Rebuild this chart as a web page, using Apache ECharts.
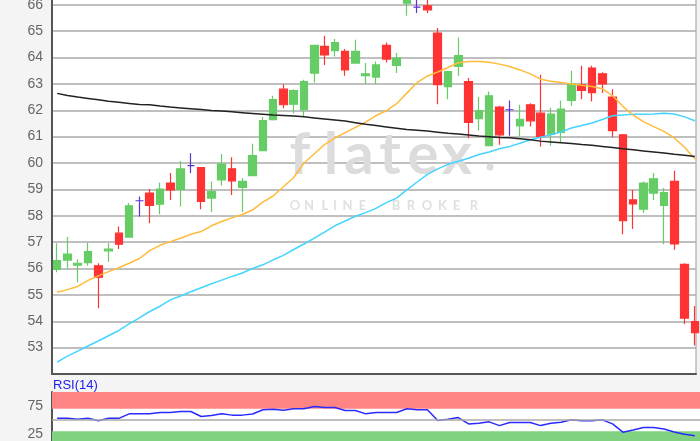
<!DOCTYPE html>
<html>
<head>
<meta charset="utf-8">
<script src="https://cdn.jsdelivr.net/npm/echarts@6/dist/echarts.min.js"></script>
<style>
html,body{margin:0;padding:0;background:#f4f4f4;}
#c{width:700px;height:441px;}
</style>
</head>
<body>
<div id="c"></div>
<script>
// ---- data ----
const categories = ['1','2','3','4','5','6','7','8','9','10','11','12','13','14','15','16','17','18','19','20','21','22','23','24','25','26','27','28','29','30','31','32','33','34','35','36','37','38','39','40','41','42','43','44','45','46','47','48','49','50','51','52','53','54','55','56','57','58','59','60','61','62','63'];
const opens  = [55.97,56.32,56.13,56.22,56.10,56.67,57.34,57.19,58.57,58.86,58.44,59.24,59.00,59.90,59.83,58.67,59.36,59.78,59.08,59.52,60.47,61.64,62.80,62.23,62.02,63.41,64.42,64.26,64.23,63.79,63.31,63.26,64.46,63.70,66.06,65.91,65.96,64.93,62.90,63.66,63.09,61.68,60.66,62.12,62.02,61.41,62.21,61.89,61.09,61.16,62.37,62.97,63.60,63.38,62.50,61.07,58.60,58.25,58.86,58.39,59.30,56.16,53.99];
const closes = [56.30,56.55,56.20,56.64,55.67,56.74,56.92,58.38,58.57,58.39,59.01,58.98,59.78,59.90,58.54,58.92,59.96,59.32,59.30,60.28,61.61,62.40,62.21,62.75,63.09,64.46,64.10,64.57,63.53,64.23,63.38,63.72,63.94,63.98,66.30,65.91,65.81,62.97,63.47,64.07,61.54,61.99,62.55,61.07,62.02,61.66,61.60,61.00,61.85,62.04,62.99,62.75,62.67,63.00,61.23,57.81,58.45,59.24,59.40,58.88,56.93,54.12,53.57];
const lows   = [55.86,56.01,55.48,56.10,54.49,56.26,56.74,57.17,57.97,57.72,58.06,58.60,58.35,59.62,58.25,58.14,59.15,58.79,58.14,59.50,60.45,61.61,62.08,61.89,61.74,63.05,63.72,64.04,63.31,63.77,63.00,63.00,63.81,63.41,65.58,65.69,65.69,62.23,62.42,63.31,60.94,61.23,60.64,60.69,61.03,61.01,61.38,60.63,60.65,60.78,62.17,62.42,62.33,62.65,60.98,57.30,57.50,58.10,58.60,56.92,56.71,53.90,53.08];
const highs  = [56.96,57.19,56.35,56.98,56.20,56.96,57.59,58.48,58.73,59.01,59.26,59.62,60.08,60.37,59.85,59.30,60.34,60.22,59.43,60.73,61.74,62.55,62.99,62.80,63.16,64.48,64.83,64.70,64.32,64.67,63.79,63.85,64.57,64.17,66.45,66.25,66.20,65.12,63.50,64.76,63.22,62.50,62.71,62.17,62.37,62.21,62.27,63.35,62.10,62.37,63.50,63.69,63.69,63.44,62.80,61.10,58.98,59.30,59.62,59.05,59.71,56.20,54.58];
const maBlack  = [62.64,62.56,62.50,62.45,62.40,62.34,62.30,62.26,62.22,62.21,62.16,62.12,62.09,62.06,62.03,61.99,61.97,61.94,61.91,61.88,61.85,61.82,61.80,61.78,61.75,61.71,61.67,61.63,61.59,61.53,61.47,61.42,61.37,61.32,61.27,61.24,61.21,61.17,61.13,61.10,61.06,61.02,61.00,60.97,60.96,60.92,60.88,60.83,60.80,60.77,60.74,60.70,60.67,60.63,60.59,60.54,60.50,60.46,60.42,60.38,60.33,60.29,60.25];
const maOrange = [55.10,55.20,55.32,55.55,55.72,55.88,56.03,56.20,56.38,56.68,56.88,57.02,57.15,57.30,57.40,57.62,57.78,57.92,58.05,58.22,58.52,58.75,59.10,59.45,60.00,60.35,60.70,60.95,61.15,61.35,61.55,61.80,61.98,62.25,62.65,63.05,63.30,63.45,63.62,63.80,63.85,63.85,63.82,63.75,63.66,63.53,63.38,63.18,63.10,63.05,63.00,62.95,62.90,62.82,62.55,62.15,61.82,61.57,61.38,61.20,60.95,60.60,60.15];
const maCyan   = [52.45,52.68,52.87,53.06,53.25,53.45,53.65,53.90,54.13,54.37,54.57,54.81,54.96,55.12,55.27,55.42,55.56,55.70,55.83,56.00,56.14,56.33,56.50,56.72,56.93,57.15,57.38,57.62,57.80,57.98,58.12,58.28,58.50,58.67,58.98,59.28,59.57,59.78,59.95,60.07,60.18,60.32,60.42,60.54,60.63,60.75,60.88,60.98,61.07,61.18,61.33,61.42,61.52,61.65,61.79,61.82,61.85,61.85,61.86,61.89,61.86,61.75,61.60];
const rsiValues = [53.3,53.0,51.5,53.3,48.5,53.0,53.0,61.0,61.0,61.0,63.4,63.4,65.2,65.2,56.3,58.0,61.0,58.7,58.7,60.7,68.2,69.4,67.6,70.0,70.0,74.2,72.4,72.4,67.0,67.0,61.0,63.4,63.4,63.4,70.0,68.2,68.2,49.0,51.5,54.4,43.0,44.3,46.7,40.0,45.5,45.5,45.5,40.0,44.3,46.0,50.3,48.5,48.5,50.3,43.0,28.2,32.3,36.5,36.5,34.0,28.7,24.6,22.0];
const priceMin = 52, priceMax = 67, priceStep = 1;
const rsiTickLabels = [75, 25];
const rsiUpper = 70, rsiLower = 30, rsiMid = 50;
const indicatorLabel = 'RSI(14)';
const logoLetters = ['f','l','a','t','e','x'];
const brokerLetters = ['O','N','L','I','N','E','B','R','O','K','E','R'];

// ---- chart ----
const chart = echarts.init(document.getElementById('c'), null, {renderer: 'canvas'});
const candleData = categories.map((c, i) => [opens[i], closes[i], lows[i], highs[i]]);

const mainTop = -21.6, mainHeight = 395.6;
const logoX = [300, 331, 359, 390, 423, 457];
const brokerX = [295, 309, 325, 335, 347.5, 362.5, 396, 411, 427, 442.5, 456.5, 474];

const graphics = [];
logoLetters.forEach((ch, i) => graphics.push({
  type: 'text', z: 1, silent: true,
  style: {text: ch, x: logoX[i], y: 184, fill: '#dcdcdc', fontSize: 58, fontWeight: 'bold', fontFamily: 'Lato', textAlign: 'center', textVerticalAlign: 'bottom'}
}));
graphics.push({type: 'circle', z: 1, silent: true, shape: {cx: 490, cy: 167, r: 3.5}, style: {fill: '#dcdcdc'}});
brokerLetters.forEach((ch, i) => graphics.push({
  type: 'text', z: 1, silent: true,
  style: {text: ch, x: brokerX[i], y: 206, fill: '#e0e0e0', fontSize: 13, fontWeight: 'bold', fontFamily: 'Lato', textAlign: 'center', textVerticalAlign: 'middle'}
}));
graphics.push({
  type: 'text', z: 5, silent: true,
  style: {text: indicatorLabel, x: 53, y: 385, fill: '#2020ee', fontSize: 13, fontFamily: 'Liberation Sans', textAlign: 'left', textVerticalAlign: 'middle'}
});

const option = {
  animation: false,
  backgroundColor: '#f4f4f4',
  graphic: graphics,
  grid: [
    {left: 52, top: mainTop, width: 644, height: mainHeight, show: true, backgroundColor: '#ffffff', borderColor: '#999', borderWidth: 1, containLabel: false, outerBoundsMode: 'none'},
    {left: 52, top: mainTop, width: 648, height: mainHeight, containLabel: false, outerBoundsMode: 'none'},
    {left: 52, top: 392, width: 648, height: 56, show: true, backgroundColor: '#ffffff', borderWidth: 0, containLabel: false, outerBoundsMode: 'none'}
  ],
  xAxis: [
    {gridIndex: 0, type: 'category', data: categories, boundaryGap: true,
     axisLine: {show: true, lineStyle: {color: '#555', width: 2}}, axisTick: {show: false}, axisLabel: {show: false}, splitLine: {show: false}},
    {gridIndex: 1, type: 'category', data: categories, boundaryGap: true, show: false},
    {gridIndex: 2, type: 'category', data: categories, boundaryGap: true, position: 'top',
     axisLine: {show: true, lineStyle: {color: '#666', width: 2}}, axisTick: {show: false}, axisLabel: {show: false}, splitLine: {show: false}}
  ],
  yAxis: [
    {gridIndex: 0, type: 'value', min: priceMin, max: priceMax, interval: priceStep,
     axisLine: {show: true, lineStyle: {color: '#555', width: 2}}, axisTick: {show: false},
     axisLabel: {color: '#666', fontSize: 14, margin: 9, fontFamily: 'Liberation Sans', showMinLabel: false},
     splitLine: {show: true, lineStyle: {color: '#aaa', width: 1.5}}},
    {gridIndex: 1, type: 'value', min: priceMin, max: priceMax, show: false, splitLine: {show: false}},
    {gridIndex: 2, type: 'value', min: 0, max: 100, interval: 25,
     axisLine: {show: true, lineStyle: {color: '#555', width: 2}}, axisTick: {show: false},
     axisLabel: {color: '#666', fontSize: 14, margin: 9, fontFamily: 'Liberation Sans', padding: [5, 0, 0, 0],
       formatter: v => rsiTickLabels.indexOf(v) >= 0 ? String(v) : ''},
     splitLine: {show: false}}
  ],
  series: [
    {type: 'candlestick', xAxisIndex: 1, yAxisIndex: 1, data: candleData, barWidth: 8, clip: false, z: 3,
     itemStyle: {color: '#66cc66', color0: '#ff3333', borderColor: '#66cc66', borderColor0: '#ff3333', borderColorDoji: '#5a32d6', borderWidth: 1.2}},
    {type: 'line', xAxisIndex: 1, yAxisIndex: 1, data: maCyan, showSymbol: false, z: 4, silent: true,
     lineStyle: {color: '#44d4ff', width: 1.5}},
    {type: 'line', xAxisIndex: 1, yAxisIndex: 1, data: maOrange, showSymbol: false, z: 4, silent: true,
     lineStyle: {color: '#ffbb3a', width: 1.5}},
    {type: 'line', xAxisIndex: 1, yAxisIndex: 1, data: maBlack, showSymbol: false, z: 4, silent: true,
     lineStyle: {color: '#222', width: 1.5}},
    {type: 'line', xAxisIndex: 2, yAxisIndex: 2, data: rsiValues, showSymbol: false, z: 4, silent: true,
     lineStyle: {color: '#2a2aff', width: 1.5},
     markArea: {silent: true, data: [
       [{yAxis: rsiUpper, itemStyle: {color: '#ff8585'}}, {yAxis: 100}],
       [{yAxis: 0, itemStyle: {color: '#7fd27f'}}, {yAxis: rsiLower}]
     ]},
     markLine: {silent: true, symbol: 'none', label: {show: false}, lineStyle: {color: '#aaa', width: 1.5, type: 'solid'},
       data: [{yAxis: rsiMid}]}}
  ]
};
chart.setOption(option);
</script>
</body>
</html>
